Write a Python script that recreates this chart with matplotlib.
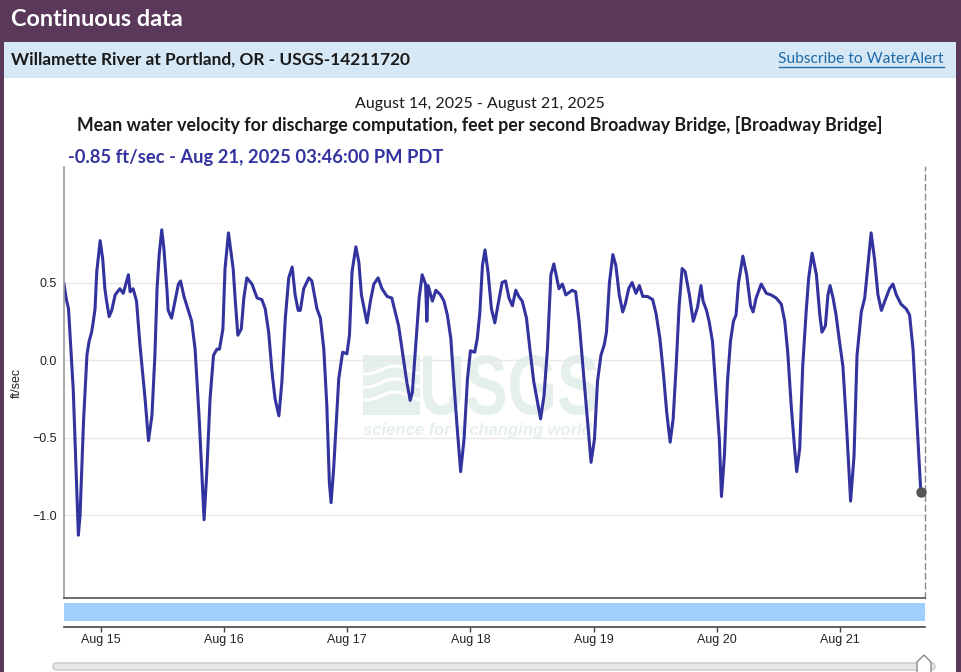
import numpy as np
import pandas as pd
import matplotlib
matplotlib.use('Agg')
import matplotlib.pyplot as plt
import matplotlib.dates as mdates
from matplotlib.patches import Rectangle, FancyBboxPatch, Polygon, PathPatch
from matplotlib.textpath import TextPath
from matplotlib.font_manager import FontProperties
from matplotlib.transforms import Affine2D
from matplotlib.ticker import FuncFormatter

plt.rcParams['font.family'] = ['Lato', 'DejaVu Sans']

# ---- colours ----
C_PURPLE = '#5a385a'
C_BAND = '#d6e7f5'
C_LINK = '#1f6aa8'
C_LINE = '#3333a0'
C_TEXT = '#1a1a1a'
C_BRUSH = '#9fd0fb'
C_WM = '#e5f0ec'

W, H = 961, 672

# ---- data: mean water velocity (ft/sec), Broadway Bridge, Aug 2025 (day HH:MM) ----
TIMES = [
    '14 16:47', '14 17:15', '14 17:40', '14 18:35', '14 19:15', '14 19:35', '14 19:55', '14 20:35',
    '14 21:15', '14 21:40', '14 22:10', '14 22:30', '14 22:50', '14 23:10', '14 23:50',
    '15 00:20', '15 00:45', '15 01:05', '15 01:35', '15 02:05', '15 02:45', '15 03:40', '15 04:20',
    '15 05:20', '15 05:40', '15 06:15', '15 06:55', '15 07:35', '15 08:35', '15 09:15', '15 09:55',
    '15 10:30', '15 10:55', '15 11:20', '15 11:50', '15 12:15', '15 12:50', '15 13:05', '15 13:45',
    '15 14:25', '15 15:05', '15 15:30', '15 16:10', '15 17:00', '15 17:40', '15 18:20', '15 19:10',
    '15 20:05', '15 20:35', '15 21:15', '15 21:55', '15 22:35', '15 23:05', '15 23:45',
    '16 00:10', '16 00:50', '16 01:45', '16 02:10', '16 02:40', '16 03:20', '16 03:50', '16 04:25',
    '16 05:25', '16 06:25', '16 07:20', '16 08:00', '16 08:40', '16 09:20', '16 09:55', '16 10:40',
    '16 11:15', '16 11:55', '16 12:35', '16 13:15', '16 13:50', '16 14:25', '16 14:50', '16 15:30',
    '16 16:30', '16 17:05', '16 18:05', '16 18:45', '16 19:25', '16 20:00', '16 20:30', '16 20:50',
    '16 21:20', '16 22:20', '16 23:05', '16 23:55',
    '17 00:25', '17 00:55', '17 01:40', '17 02:15', '17 02:45', '17 03:50', '17 04:30', '17 05:10',
    '17 06:00', '17 06:45', '17 07:45', '17 08:40', '17 09:20', '17 10:00', '17 11:00', '17 11:35',
    '17 12:15', '17 12:40', '17 13:20', '17 14:00', '17 14:35', '17 15:15', '17 15:30', '17 15:45',
    '17 16:35', '17 17:15', '17 18:10', '17 18:50', '17 19:30', '17 20:10', '17 20:45', '17 21:25',
    '17 22:05', '17 22:45', '17 23:25',
    '18 00:00', '18 00:50', '18 01:20', '18 01:50', '18 02:20', '18 02:50', '18 03:25', '18 04:05',
    '18 04:45', '18 05:20', '18 06:10', '18 06:50', '18 07:30', '18 08:10', '18 08:50', '18 09:25',
    '18 10:05', '18 10:55', '18 11:35', '18 12:20', '18 13:40', '18 14:20', '18 15:00', '18 15:40',
    '18 16:15', '18 17:15', '18 17:55', '18 18:35', '18 19:50', '18 20:30', '18 21:10', '18 21:50',
    '18 22:50', '18 23:30',
    '19 00:10', '19 00:45', '19 01:25', '19 02:05', '19 02:30', '19 03:05', '19 03:45', '19 04:20',
    '19 05:00', '19 05:40', '19 06:10', '19 06:50', '19 07:30', '19 08:15', '19 08:55', '19 09:35',
    '19 10:30', '19 11:30', '19 12:10', '19 12:55', '19 13:35', '19 14:15', '19 14:55', '19 15:30',
    '19 16:05', '19 16:40', '19 17:15', '19 17:50', '19 18:40', '19 19:25', '19 20:15', '19 20:55',
    '19 21:20', '19 22:00', '19 22:30', '19 23:10', '19 23:50',
    '20 00:30', '20 00:55', '20 01:30', '20 02:05', '20 02:40', '20 03:15', '20 03:45', '20 04:15',
    '20 05:05', '20 05:50', '20 06:35', '20 07:05', '20 07:40', '20 08:40', '20 09:40', '20 10:35',
    '20 11:35', '20 12:35', '20 13:15', '20 13:50', '20 14:30', '20 15:10', '20 15:35', '20 16:10',
    '20 16:45', '20 17:25', '20 17:55', '20 18:35', '20 19:25', '20 20:05', '20 20:30', '20 21:10',
    '20 21:40', '20 22:05', '20 22:40', '20 23:15', '20 23:55',
    '21 00:35', '21 01:15', '21 02:05', '21 02:45', '21 03:20', '21 04:10', '21 04:50', '21 05:20',
    '21 06:05', '21 06:45', '21 07:25', '21 08:05', '21 08:45', '21 09:40', '21 10:20', '21 11:00',
    '21 11:55', '21 12:55', '21 13:35', '21 14:15', '21 14:50', '21 15:46',
]
VALUES = [
    0.49, 0.39, 0.33, -0.19, -0.83, -1.13, -1.00, -0.40,
    0.03, 0.12, 0.18, 0.25, 0.33, 0.57, 0.77,
    0.65, 0.46, 0.38, 0.28, 0.32, 0.42, 0.46, 0.43,
    0.55, 0.44, 0.46, 0.38, 0.10, -0.25, -0.52, -0.36,
    0.03, 0.46, 0.68, 0.84, 0.72, 0.46, 0.32, 0.27,
    0.38, 0.49, 0.51, 0.41, 0.32, 0.25, 0.07, -0.40,
    -1.03, -0.74, -0.25, 0.03, 0.07, 0.07, 0.20,
    0.59, 0.82, 0.59, 0.38, 0.16, 0.20, 0.40, 0.53,
    0.49, 0.40, 0.39, 0.33, 0.18, -0.08, -0.25, -0.36,
    -0.14, 0.27, 0.53, 0.60, 0.42, 0.32, 0.32, 0.46,
    0.53, 0.51, 0.33, 0.27, 0.07, -0.29, -0.79, -0.92,
    -0.70, -0.12, 0.05, 0.04,
    0.16, 0.57, 0.73, 0.63, 0.42, 0.24, 0.38, 0.49,
    0.53, 0.46, 0.41, 0.40, 0.31, 0.22, -0.01, -0.14,
    -0.26, -0.21, 0.10, 0.40, 0.55, 0.49, 0.25, 0.48,
    0.38, 0.45, 0.42, 0.38, 0.29, 0.14, -0.14, -0.44,
    -0.72, -0.51, -0.12,
    0.06, 0.05, 0.14, 0.31, 0.61, 0.71, 0.57, 0.33,
    0.24, 0.35, 0.50, 0.51, 0.40, 0.35, 0.45, 0.41,
    0.38, 0.27, 0.07, -0.14, -0.38, -0.23, 0.07, 0.55,
    0.62, 0.46, 0.49, 0.42, 0.45, 0.44, 0.25, -0.01,
    -0.40, -0.66,
    -0.51, -0.14, 0.03, 0.10, 0.18, 0.50, 0.68, 0.61,
    0.42, 0.31, 0.36, 0.46, 0.50, 0.43, 0.48, 0.41,
    0.41, 0.39, 0.30, 0.14, -0.08, -0.34, -0.53, -0.38,
    -0.04, 0.35, 0.59, 0.57, 0.42, 0.25, 0.34, 0.48,
    0.38, 0.32, 0.25, 0.12, -0.19,
    -0.51, -0.88, -0.61, -0.14, 0.12, 0.25, 0.29, 0.50,
    0.67, 0.55, 0.35, 0.31, 0.40, 0.49, 0.43, 0.42,
    0.40, 0.36, 0.25, 0.05, -0.29, -0.57, -0.72, -0.57,
    -0.04, 0.31, 0.53, 0.69, 0.55, 0.29, 0.18, 0.22,
    0.42, 0.48, 0.40, 0.29, 0.12,
    -0.04, -0.40, -0.91, -0.62, 0.03, 0.31, 0.40, 0.57,
    0.82, 0.65, 0.42, 0.32, 0.38, 0.46, 0.49, 0.42,
    0.36, 0.33, 0.29, 0.07, -0.29, -0.85,
]
Y_TICKS = [-1.0, -0.5, 0.0, 0.5]
X_START = '2025-08-14 16:47'
X_END = '2025-08-21 16:35'

t = pd.to_datetime(['2025-08-' + s for s in TIMES])
v = np.array(VALUES)


def box(x, y, w, h):
    """pixel box (top-left origin) -> figure fraction"""
    return [x / W, 1 - (y + h) / H, w / W, h / H]


fig = plt.figure(figsize=(W / 100, H / 100), dpi=100, facecolor=C_PURPLE)

# ========== page background (pixel coords) ==========
bg = fig.add_axes([0, 0, 1, 1])
bg.set_xlim(0, W)
bg.set_ylim(H, 0)
bg.axis('off')
bg.set_zorder(0)

bg.add_patch(Rectangle((3.5, 42), 952.5, 630, fc='white', ec='none'))
bg.add_patch(Rectangle((3.5, 42), 952.5, 36, fc=C_BAND, ec='none'))

bg.text(11, 20, 'Continuous data', color='white', fontsize=16.9, fontweight='bold', va='center')
bg.text(11, 60, 'Willamette River at Portland, OR - USGS-14211720', color=C_TEXT,
        fontsize=12.4, fontweight='bold', va='center')
bg.text(944, 59, 'Subscribe to WaterAlert', color=C_LINK, fontsize=11.2, ha='right', va='center')
bg.plot([779, 944], [67, 67], color=C_LINK, lw=1)

bg.text(480, 104, 'August 14, 2025 - August 21, 2025', color=C_TEXT, fontsize=11.5,
        ha='center', va='center')
bg.text(480, 125.5, 'Mean water velocity for discharge computation, feet per second Broadway Bridge, '
        '[Broadway Bridge]', color=C_TEXT, fontsize=12.8, fontweight='bold', ha='center', va='center')
bg.text(68, 157, f'{VALUES[-1]:.2f} ft/sec - Aug 21, 2025 03:46:00 PM PDT', color=C_LINE,
        fontsize=13.2, fontweight='bold', va='center')
bg.text(17, 383, 'ft/sec', rotation=90, ha='center', va='center', fontsize=9,
        family='Liberation Sans', color='#222222')

# watermark (USGS logo)
bg.add_patch(Rectangle((363, 355), 57, 60, fc=C_WM, ec='none'))
xs = np.linspace(363, 420, 40)
for y0 in [370, 383, 396]:
    bg.plot(xs, y0 + 4 * np.sin((xs - 363) / 57 * 2 * np.pi + 1.2), color='white', lw=2.2)
tp = TextPath((0, 0), 'USGS', size=1, prop=FontProperties(family='Liberation Sans', weight='bold'))
ext = tp.get_extents()
tr = Affine2D().translate(-ext.x0, -ext.y0).scale(174 / ext.width, -60 / ext.height).translate(423, 415)
bg.add_patch(PathPatch(tr.transform_path(tp), fc=C_WM, ec='none'))
bg.text(363, 431, 'science for a changing world', color=C_WM, fontsize=12, fontweight='bold',
        style='italic', family='Liberation Sans', va='center')

# brush bar
bg.add_patch(Rectangle((64, 603), 861, 18, fc=C_BRUSH, ec='none'))

# slider
bg.add_patch(FancyBboxPatch((53, 663), 882, 7, boxstyle='round,pad=0,rounding_size=3.5',
                            fc='#e8e8e8', ec='#c8c8c8', lw=1))
bg.add_patch(Polygon([(917, 673), (917, 662), (924, 655), (931, 662), (931, 673)],
                     closed=True, fc='white', ec='#8a8a8a', lw=1))

# ========== main chart ==========
ax = fig.add_axes(box(64, 167, 861, 431))
ax.set_facecolor('none')
ax.set_zorder(1)
ax.plot(t, v, color=C_LINE, lw=2.2, solid_joinstyle='round')
ax.plot(t[-1:], v[-1:], 'o', ms=6.5, color='#555555', zorder=5, clip_on=False)
ax.set_xlim(pd.Timestamp(X_START), pd.Timestamp(X_END))
ax.set_ylim(-1.535, 1.245)
ax.set_xticks([])
ax.set_yticks(Y_TICKS)
ax.yaxis.set_major_formatter(FuncFormatter(lambda y, _: f'{y:.1f}'.replace('-', '\u2212')))
ax.tick_params(axis='y', length=0, pad=5, labelsize=9, labelcolor='#222222',
               labelfontfamily='Liberation Sans')
ax.grid(axis='y', color='#e8e8e8', lw=1)
ax.set_axisbelow(True)
ax.spines['top'].set_visible(False)
ax.spines['left'].set_color('#999999')
ax.spines['left'].set_linewidth(1.2)
ax.spines['bottom'].set_color('#555555')
ax.spines['bottom'].set_linewidth(1.2)
ax.spines['right'].set_color('#888888')
ax.spines['right'].set_linewidth(1)
ax.spines['right'].set_linestyle((0, (4, 3)))

# ========== time axis under brush ==========
axt = fig.add_axes(box(64, 626, 861, 0.5))
axt.set_facecolor('none')
axt.set_zorder(1)
axt.set_xlim(pd.Timestamp(X_START), pd.Timestamp(X_END))
axt.set_yticks([])
for side in ['top', 'left', 'right']:
    axt.spines[side].set_visible(False)
axt.spines['bottom'].set_color('#444444')
axt.spines['bottom'].set_linewidth(1.2)
axt.xaxis.set_major_locator(mdates.DayLocator())
axt.xaxis.set_major_formatter(mdates.DateFormatter('%b %d'))
axt.tick_params(axis='x', length=3.6, width=1, color='#444444', pad=1.5, labelsize=9,
                labelcolor='#222222', labelfontfamily='Liberation Sans')

fig.savefig('out.png', dpi=100, facecolor=C_PURPLE)
